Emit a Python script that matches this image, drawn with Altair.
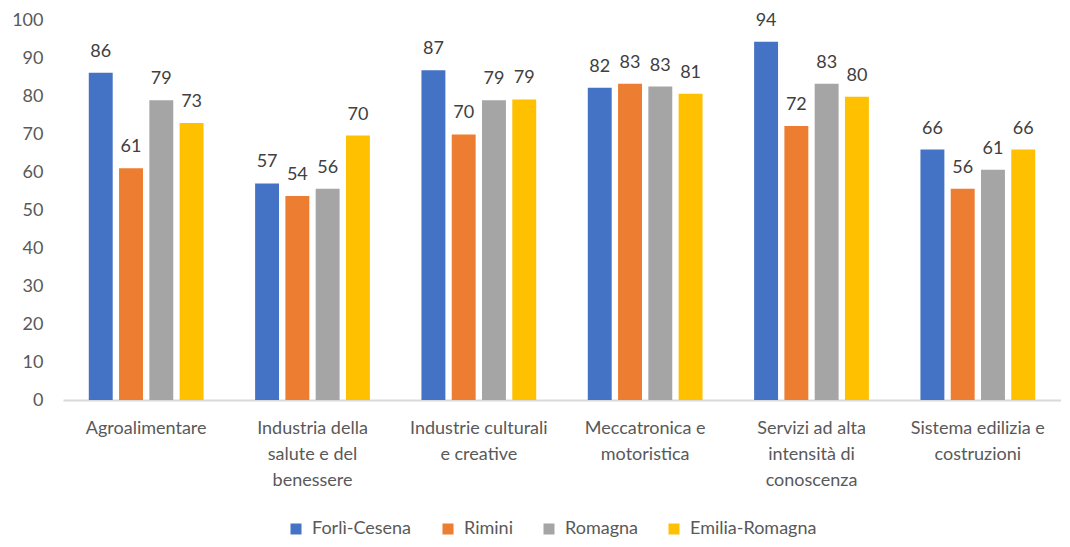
import altair as alt
import pandas as pd

categories = [
    "Agroalimentare",
    "Industria della\nsalute e del\nbenessere",
    "Industrie culturali\ne creative",
    "Meccatronica e\nmotoristica",
    "Servizi ad alta\nintensità di\nconoscenza",
    "Sistema edilizia e\ncostruzioni",
]
series = ["Forlì-Cesena", "Rimini", "Romagna", "Emilia-Romagna"]
colors = ["#4472C4", "#ED7D31", "#A5A5A5", "#FFC000"]

forli_cesena = [86.1, 57.0, 86.8, 82.2, 94.3, 65.9]
rimini = [61.0, 53.7, 69.9, 83.2, 72.1, 55.6]
romagna = [78.9, 55.6, 78.9, 82.5, 83.2, 60.6]
emilia_romagna = [72.9, 69.6, 79.1, 80.6, 79.8, 65.9]

y_ticks = list(range(0, 101, 10))

values = [forli_cesena, rimini, romagna, emilia_romagna]
rows = []
for s, vals in zip(series, values):
    for c, v in zip(categories, vals):
        rows.append({"cat": c, "series": s, "value": v})
df = pd.DataFrame(rows)

FONT = "Lato"

base = alt.Chart(df).encode(
    x=alt.X(
        "cat:N",
        sort=categories,
        scale=alt.Scale(paddingInner=0.31, paddingOuter=0.155),
        axis=alt.Axis(
            title=None,
            labelAngle=0,
            labelExpr="split(datum.label, '\\n')",
            labelFont=FONT,
            labelFontSize=18,
            labelColor="#595959",
            labelLineHeight=26,
            labelBaseline="top",
            labelPadding=19,
            domainColor="#D9D9D9",
            domainWidth=2,
            ticks=False,
            labelLimit=300,
        ),
    ),
    xOffset=alt.XOffset(
        "series:N", sort=series, scale=alt.Scale(paddingInner=0.21, paddingOuter=0)
    ),
    y=alt.Y(
        "value:Q",
        scale=alt.Scale(domain=[0, 100], nice=False),
        axis=alt.Axis(
            title=None,
            values=y_ticks,
            grid=False,
            domain=False,
            ticks=False,
            labelPadding=20,
            labelFont=FONT,
            labelFontSize=18,
            labelColor="#595959",
        ),
    ),
)

bars = base.mark_bar().encode(
    color=alt.Color(
        "series:N",
        sort=series,
        scale=alt.Scale(domain=series, range=colors),
        legend=alt.Legend(
            title=None,
            orient="none",
            legendX=224,
            legendY=500,
            direction="horizontal",
            symbolType="square",
            symbolSize=121,
            symbolStrokeWidth=0,
            columnPadding=27,
            labelOffset=7,
            labelFont=FONT,
            labelFontSize=18,
            labelColor="#595959",
            padding=0,
        ),
    )
)

labels = base.mark_text(
    dy=-16, baseline="alphabetic", font=FONT, fontSize=18, color="#404040"
).encode(text=alt.Text("value:Q", format=".0f"))

chart = (
    alt.layer(bars, labels)
    .properties(
        width=998,
        height=380,
        autosize=alt.AutoSizeParams(type="none"),
        padding={"left": 55, "top": 12, "right": 0, "bottom": 139},
    )
    .configure_view(stroke=None)
)

chart.save("out.html", embed_options={"renderer": "svg", "actions": False})
